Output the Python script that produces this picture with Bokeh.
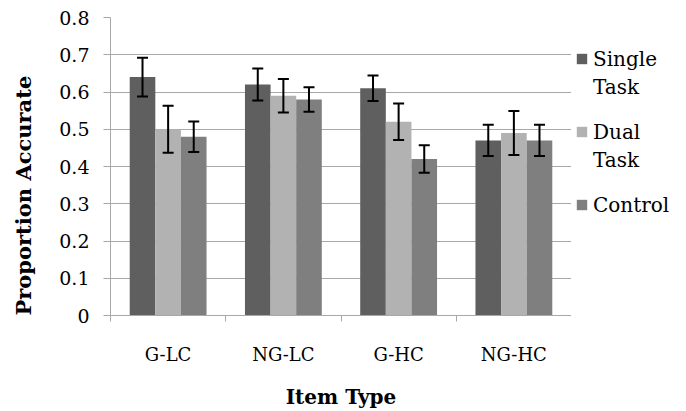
import math
from bokeh.plotting import figure
from bokeh.layouts import row
from bokeh.models import (ColumnDataSource, FixedTicker, Whisker, TeeHead, Legend,
                          LegendItem, Range1d)
from bokeh.core.properties import value
from bokeh.transform import dodge
from bokeh.embed import file_html
from bokeh.resources import INLINE

categories = ["G-LC", "NG-LC", "G-HC", "NG-HC"]
series_first = ["Single", "Dual", "Control"]
series_second = ["Task", "Task"]
single = [0.64, 0.62, 0.61, 0.47]
dual = [0.50, 0.59, 0.52, 0.49]
control = [0.48, 0.58, 0.42, 0.47]
single_err = [0.052, 0.043, 0.034, 0.042]
dual_err = [0.063, 0.045, 0.049, 0.059]
control_err = [0.041, 0.033, 0.037, 0.042]
y_ticks = [0, 0.1, 0.2, 0.3, 0.4, 0.5, 0.6, 0.7, 0.8]
y_labels = ["0", "0.1", "0.2", "0.3", "0.4", "0.5", "0.6", "0.7", "0.8"]
y_title = "Proportion Accurate"
x_title = "Item Type"

colors = ["#5f5f5f", "#b2b2b2", "#7f7f7f"]
FONT = "DejaVu Serif"
GRID = "#a8a8a8"
H = 411
TOP, BOTTOM = 17, 96

xc = [i + 0.5 for i in range(len(categories))]
src = ColumnDataSource(dict(
    x=xc, single=single, dual=dual, control=control,
    s_lo=[v - e for v, e in zip(single, single_err)], s_hi=[v + e for v, e in zip(single, single_err)],
    d_lo=[v - e for v, e in zip(dual, dual_err)], d_hi=[v + e for v, e in zip(dual, dual_err)],
    c_lo=[v - e for v, e in zip(control, control_err)], c_hi=[v + e for v, e in zip(control, control_err)],
))

y_range = Range1d(0, 0.8)

# ---- left strip holding the rotated y title
yl = figure(width=40, height=H, output_backend="svg", toolbar_location=None,
            x_axis_type=None, y_axis_type=None, x_range=Range1d(0, 40), y_range=y_range,
            min_border_left=0, min_border_right=0, min_border_top=TOP, min_border_bottom=BOTTOM)
yl.outline_line_color = None
yl.xgrid.visible = False
yl.ygrid.visible = False
yl.text(x=[23], y=[y_ticks[0]], text=[y_title], angle=math.pi / 2,
        text_font=value(FONT), text_font_style="bold", text_font_size="21px",
        text_color="black", text_align="left", text_baseline="middle")

# ---- main plot
p = figure(width=531, height=H, output_backend="svg", toolbar_location=None,
           x_range=Range1d(0, len(categories)), y_range=y_range,
           min_border_left=70, min_border_right=0, min_border_top=TOP, min_border_bottom=BOTTOM)
p.outline_line_color = None
p.background_fill_color = "white"
p.border_fill_color = "white"

bw = 1 / 4.5
keys = ["single", "dual", "control"]
errs = [("s_lo", "s_hi"), ("d_lo", "d_hi"), ("c_lo", "c_hi")]
for k, (off, key) in enumerate(zip([-bw, 0, bw], keys)):
    p.vbar(x=dodge("x", off, range=p.x_range), top=key, width=bw, bottom=0,
           source=src, fill_color=colors[k], line_color=None)
    lo, hi = errs[k]
    w = Whisker(base=dodge("x", off, range=p.x_range), lower=lo, upper=hi, source=src,
                line_color="black", line_width=2, level="overlay",
                upper_head=TeeHead(size=11, line_color="black", line_width=2),
                lower_head=TeeHead(size=11, line_color="black", line_width=2))
    p.add_layout(w)

xa = p.xaxis[0]
xa.ticker = FixedTicker(ticks=xc, minor_ticks=list(range(len(categories) + 1)))
xa.major_label_overrides = {c: lab for c, lab in zip(xc, categories)}
xa.major_tick_out = 0
xa.major_tick_in = 0
xa.minor_tick_out = 6
xa.minor_tick_in = 0
xa.minor_tick_line_color = GRID
xa.axis_line_color = GRID
xa.major_label_text_font = FONT
xa.major_label_text_font_size = "18px"
xa.major_label_text_color = "black"
xa.major_label_standoff = 22
xa.axis_label = x_title
xa.axis_label_text_font = FONT
xa.axis_label_text_font_style = "bold"
xa.axis_label_text_font_size = "20px"
xa.axis_label_standoff = 17
xa.axis_label_text_color = "black"

ya = p.yaxis[0]
ya.ticker = FixedTicker(ticks=y_ticks, minor_ticks=[])
ya.major_label_overrides = {t: lab for t, lab in zip(y_ticks, y_labels)}
ya.major_tick_out = 7
ya.major_tick_in = 0
ya.major_tick_line_color = GRID
ya.axis_line_color = GRID
ya.major_label_text_font = FONT
ya.major_label_text_font_size = "19px"
ya.major_label_text_color = "black"
ya.major_label_standoff = 14

p.xgrid.visible = False
p.ygrid.grid_line_color = GRID
p.ygrid.ticker = FixedTicker(ticks=y_ticks)

# ---- legend strip to the right of the plot
lf = figure(width=115, height=H, output_backend="svg", toolbar_location=None,
            x_axis_type=None, y_axis_type=None,
            x_range=Range1d(0, 1), y_range=Range1d(0, 1),
            min_border_left=0, min_border_right=0, min_border_top=TOP, min_border_bottom=BOTTOM)
lf.outline_line_color = None
lf.xgrid.visible = False
lf.ygrid.visible = False
lf.border_fill_color = "white"

# zero-height placeholder bars that only supply the legend swatches
leg_renderers = [lf.vbar(x=[0.5], top=[0], width=0.1, fill_color=c, line_color=None) for c in colors]
ghost = lf.vbar(x=[0.5], top=[0], width=0.1, fill_alpha=0, line_alpha=0)

leg_kw = dict(margin=0, padding=0, spacing=49, glyph_width=13, glyph_height=13,
              label_standoff=5, label_height=24, label_text_font=FONT,
              label_text_font_size="20px", label_text_color="black",
              border_line_color=None, background_fill_alpha=0)
legend1 = Legend(items=[LegendItem(label=s, renderers=[r]) for s, r in zip(series_first, leg_renderers)],
                 location=(4, 98.5), **leg_kw)
legend2 = Legend(items=[LegendItem(label=s, renderers=[ghost]) for s in series_second],
                 location=(4, 143.5), **leg_kw)
lf.add_layout(legend1)
lf.add_layout(legend2)

layout = row(yl, p, lf, spacing=0)
open("out.html", "w").write(file_html(layout, INLINE))
